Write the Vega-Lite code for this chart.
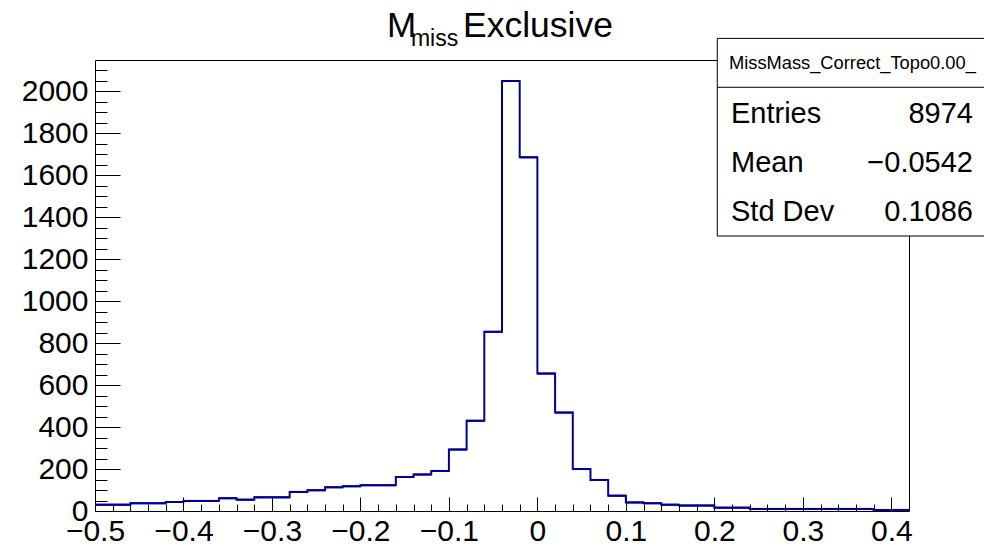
{
  "$schema": "https://vega.github.io/schema/vega-lite/v6.json",
  "width": 814,
  "height": 451,
  "autosize": "none",
  "padding": {"left": 95, "top": 60, "right": 75, "bottom": 36},
  "background": "white",
  "config": {
    "font": "Liberation Sans",
    "view": {"stroke": "#000000", "strokeWidth": 1},
    "text": {"fill": "#000000", "fontWeight": "normal"}
  },
  "data": {
    "values": [
      {"bin_start": -0.50, "bin_end": -0.48, "count": 30},
      {"bin_start": -0.48, "bin_end": -0.46, "count": 30},
      {"bin_start": -0.46, "bin_end": -0.44, "count": 37},
      {"bin_start": -0.44, "bin_end": -0.42, "count": 37},
      {"bin_start": -0.42, "bin_end": -0.40, "count": 43},
      {"bin_start": -0.40, "bin_end": -0.38, "count": 48},
      {"bin_start": -0.38, "bin_end": -0.36, "count": 48},
      {"bin_start": -0.36, "bin_end": -0.34, "count": 61},
      {"bin_start": -0.34, "bin_end": -0.32, "count": 54},
      {"bin_start": -0.32, "bin_end": -0.30, "count": 65},
      {"bin_start": -0.30, "bin_end": -0.28, "count": 65},
      {"bin_start": -0.28, "bin_end": -0.26, "count": 91},
      {"bin_start": -0.26, "bin_end": -0.24, "count": 99},
      {"bin_start": -0.24, "bin_end": -0.22, "count": 113},
      {"bin_start": -0.22, "bin_end": -0.20, "count": 118},
      {"bin_start": -0.20, "bin_end": -0.18, "count": 123},
      {"bin_start": -0.18, "bin_end": -0.16, "count": 123},
      {"bin_start": -0.16, "bin_end": -0.14, "count": 162},
      {"bin_start": -0.14, "bin_end": -0.12, "count": 174},
      {"bin_start": -0.12, "bin_end": -0.10, "count": 191},
      {"bin_start": -0.10, "bin_end": -0.08, "count": 293},
      {"bin_start": -0.08, "bin_end": -0.06, "count": 430},
      {"bin_start": -0.06, "bin_end": -0.04, "count": 854},
      {"bin_start": -0.04, "bin_end": -0.02, "count": 2050},
      {"bin_start": -0.02, "bin_end": 0.00, "count": 1686},
      {"bin_start": 0.00, "bin_end": 0.02, "count": 655},
      {"bin_start": 0.02, "bin_end": 0.04, "count": 469},
      {"bin_start": 0.04, "bin_end": 0.06, "count": 200},
      {"bin_start": 0.06, "bin_end": 0.08, "count": 148},
      {"bin_start": 0.08, "bin_end": 0.10, "count": 73},
      {"bin_start": 0.10, "bin_end": 0.12, "count": 41},
      {"bin_start": 0.12, "bin_end": 0.14, "count": 37},
      {"bin_start": 0.14, "bin_end": 0.16, "count": 30},
      {"bin_start": 0.16, "bin_end": 0.18, "count": 26},
      {"bin_start": 0.18, "bin_end": 0.20, "count": 26},
      {"bin_start": 0.20, "bin_end": 0.22, "count": 16},
      {"bin_start": 0.22, "bin_end": 0.24, "count": 16},
      {"bin_start": 0.24, "bin_end": 0.26, "count": 10},
      {"bin_start": 0.26, "bin_end": 0.28, "count": 10},
      {"bin_start": 0.28, "bin_end": 0.30, "count": 10},
      {"bin_start": 0.30, "bin_end": 0.32, "count": 10},
      {"bin_start": 0.32, "bin_end": 0.34, "count": 10},
      {"bin_start": 0.34, "bin_end": 0.36, "count": 10},
      {"bin_start": 0.36, "bin_end": 0.38, "count": 10},
      {"bin_start": 0.38, "bin_end": 0.40, "count": 5},
      {"bin_start": 0.40, "bin_end": 0.42, "count": 5}
    ]
  },
  "layer": [
    {
      "mark": {"type": "rule", "color": "#000099", "strokeWidth": 2},
      "encoding": {
        "x": {
          "field": "bin_start", "type": "quantitative",
          "scale": {"domain": [-0.5, 0.42], "nice": false, "zero": false},
          "axis": {
            "orient": "bottom", "domain": false, "grid": false, "labels": false, "title": null,
            "tickSize": -7, "tickColor": "#000000", "tickWidth": 1,
            "values": [-0.48, -0.46, -0.44, -0.42, -0.38, -0.36, -0.34, -0.32, -0.28, -0.26, -0.24, -0.22, -0.18, -0.16, -0.14, -0.12, -0.08, -0.06, -0.04, -0.02, 0.02, 0.04, 0.06, 0.08, 0.12, 0.14, 0.16, 0.18, 0.22, 0.24, 0.26, 0.28, 0.32, 0.34, 0.36, 0.38]
          }
        },
        "x2": {"field": "bin_end"},
        "y": {
          "field": "count", "type": "quantitative",
          "scale": {"domain": [0, 2150], "nice": false},
          "axis": {
            "orient": "left", "domain": false, "grid": false, "labels": false, "title": null,
            "tickSize": -12, "tickColor": "#000000", "tickWidth": 1,
            "values": [50, 100, 150, 250, 300, 350, 450, 500, 550, 650, 700, 750, 850, 900, 950, 1050, 1100, 1150, 1250, 1300, 1350, 1450, 1500, 1550, 1650, 1700, 1750, 1850, 1900, 1950, 2050, 2100]
          }
        }
      }
    },
    {
      "mark": {"type": "line", "interpolate": "step-after", "color": "#000099", "strokeWidth": 2},
      "encoding": {
        "x": {
          "field": "bin_start", "type": "quantitative",
          "axis": {
            "orient": "bottom", "domain": false, "grid": false, "title": null,
            "tickSize": -14, "tickColor": "#000000", "tickWidth": 1,
            "values": [-0.5, -0.4, -0.3, -0.2, -0.1, 0, 0.1, 0.2, 0.3, 0.4],
            "format": "~g",
            "labelFont": "Liberation Sans", "labelFontSize": 30, "labelColor": "#000000",
            "labelPadding": 19, "labelFlush": false, "labelOverlap": false
          }
        },
        "y": {
          "field": "count", "type": "quantitative",
          "axis": {
            "orient": "left", "domain": false, "grid": false, "title": null,
            "tickSize": -25, "tickColor": "#000000", "tickWidth": 1,
            "values": [0, 200, 400, 600, 800, 1000, 1200, 1400, 1600, 1800, 2000],
            "format": "d",
            "labelFont": "Liberation Sans", "labelFontSize": 30, "labelColor": "#000000",
            "labelPadding": 32, "labelFlush": false, "labelOverlap": false
          }
        }
      }
    },
    {
      "data": {"values": [{}]},
      "mark": {"type": "rect", "fill": "white", "stroke": "#000000", "strokeWidth": 1},
      "encoding": {
        "x": {"datum": 0.2033, "type": "quantitative", "axis": null},
        "x2": {"datum": 0.51},
        "y": {"datum": 2253, "type": "quantitative", "axis": null},
        "y2": {"datum": 1311}
      }
    },
    {
      "data": {"values": [{}]},
      "mark": {"type": "rule", "color": "#000000", "strokeWidth": 1},
      "encoding": {
        "x": {"datum": 0.2033, "type": "quantitative", "axis": null},
        "x2": {"datum": 0.51},
        "y": {"datum": 2020, "type": "quantitative", "axis": null}
      }
    },
    {
      "data": {"values": [{}]},
      "mark": {"type": "text", "text": "MissMass_Correct_Topo0.00_", "align": "left", "baseline": "alphabetic", "fontSize": 18.3},
      "encoding": {
        "x": {"datum": 0.2165, "type": "quantitative", "axis": null},
        "y": {"datum": 2106, "type": "quantitative", "axis": null}
      }
    },
    {
      "data": {"values": [{}]},
      "mark": {"type": "text", "text": "Entries", "align": "left", "baseline": "alphabetic", "fontSize": 29},
      "encoding": {
        "x": {"datum": 0.2188, "type": "quantitative", "axis": null},
        "y": {"datum": 1848, "type": "quantitative", "axis": null}
      }
    },
    {
      "data": {"values": [{}]},
      "mark": {"type": "text", "text": "8974", "align": "right", "baseline": "alphabetic", "fontSize": 29},
      "encoding": {
        "x": {"datum": 0.4923, "type": "quantitative", "axis": null},
        "y": {"datum": 1848, "type": "quantitative", "axis": null}
      }
    },
    {
      "data": {"values": [{}]},
      "mark": {"type": "text", "text": "Mean", "align": "left", "baseline": "alphabetic", "fontSize": 29},
      "encoding": {
        "x": {"datum": 0.2188, "type": "quantitative", "axis": null},
        "y": {"datum": 1616, "type": "quantitative", "axis": null}
      }
    },
    {
      "data": {"values": [{}]},
      "mark": {"type": "text", "text": "−0.0542", "align": "right", "baseline": "alphabetic", "fontSize": 29},
      "encoding": {
        "x": {"datum": 0.4923, "type": "quantitative", "axis": null},
        "y": {"datum": 1616, "type": "quantitative", "axis": null}
      }
    },
    {
      "data": {"values": [{}]},
      "mark": {"type": "text", "text": "Std Dev", "align": "left", "baseline": "alphabetic", "fontSize": 29},
      "encoding": {
        "x": {"datum": 0.2188, "type": "quantitative", "axis": null},
        "y": {"datum": 1382, "type": "quantitative", "axis": null}
      }
    },
    {
      "data": {"values": [{}]},
      "mark": {"type": "text", "text": "0.1086", "align": "right", "baseline": "alphabetic", "fontSize": 29},
      "encoding": {
        "x": {"datum": 0.4923, "type": "quantitative", "axis": null},
        "y": {"datum": 1382, "type": "quantitative", "axis": null}
      }
    },
    {
      "data": {"values": [{}]},
      "mark": {"type": "text", "text": "M", "align": "left", "baseline": "alphabetic", "fontSize": 35},
      "encoding": {
        "x": {"datum": -0.17, "type": "quantitative", "axis": null},
        "y": {"datum": 2261, "type": "quantitative", "axis": null}
      }
    },
    {
      "data": {"values": [{}]},
      "mark": {"type": "text", "text": "miss", "align": "left", "baseline": "alphabetic", "fontSize": 23},
      "encoding": {
        "x": {"datum": -0.1429, "type": "quantitative", "axis": null},
        "y": {"datum": 2217, "type": "quantitative", "axis": null}
      }
    },
    {
      "data": {"values": [{}]},
      "mark": {"type": "text", "text": "Exclusive", "align": "left", "baseline": "alphabetic", "fontSize": 35.5},
      "encoding": {
        "x": {"datum": -0.0841, "type": "quantitative", "axis": null},
        "y": {"datum": 2261, "type": "quantitative", "axis": null}
      }
    }
  ],
  "resolve": {"axis": {"x": "independent", "y": "independent"}}
}
